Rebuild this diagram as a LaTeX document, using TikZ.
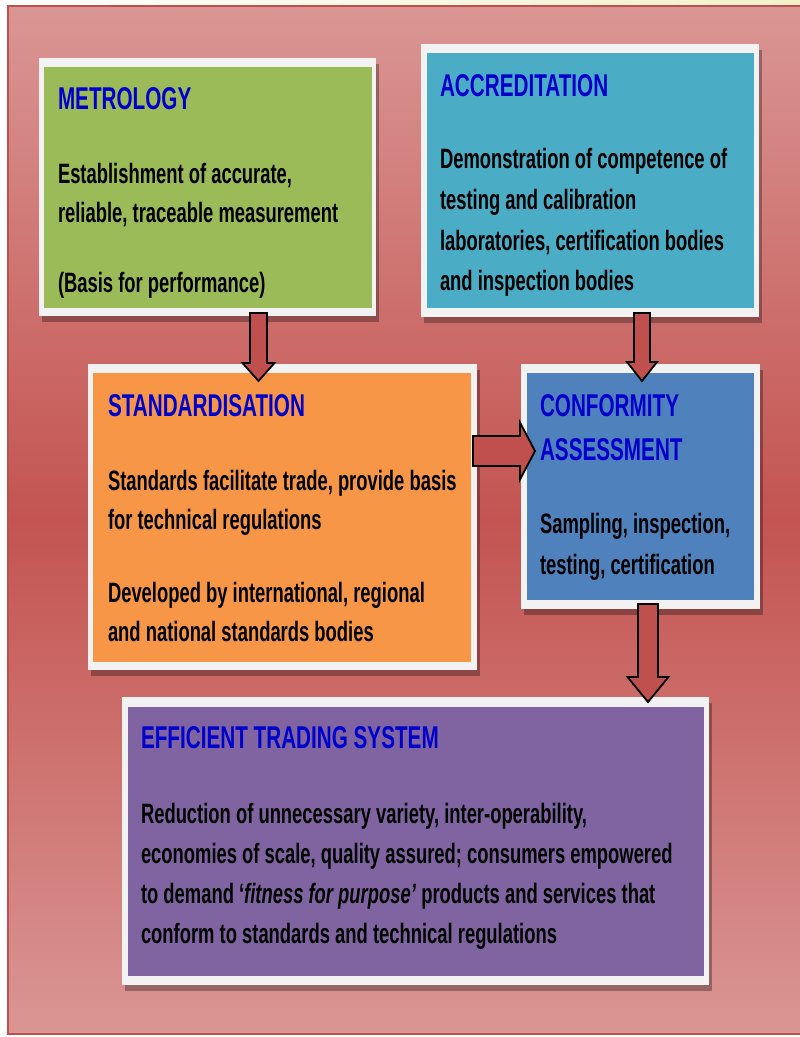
\documentclass[tikz,border=0pt]{standalone}
\usepackage{fontspec}
\setmainfont{Liberation Sans}[FakeStretch=0.657]
\usetikzlibrary{calc}
\definecolor{bgtop}{RGB}{218,150,148}
\definecolor{bgmid}{RGB}{195,84,81}
\definecolor{bordred}{RGB}{192,80,77}
\definecolor{titleblue}{RGB}{0,0,204}
\definecolor{cgreen}{RGB}{155,187,89}
\definecolor{cteal}{RGB}{75,172,198}
\definecolor{corange}{RGB}{247,150,70}
\definecolor{cblue}{RGB}{79,129,189}
\definecolor{cpurple}{RGB}{128,100,162}
\definecolor{framew}{RGB}{242,242,242}
\definecolor{arrowred}{RGB}{192,80,77}
\definecolor{paleyellow}{RGB}{244,242,200}
\tikzset{
  frame/.style={fill=framew, draw=none, inner sep=0pt, outer sep=0pt, anchor=north west},
  inbox/.style={draw=none, inner sep=0pt, outer sep=0pt, anchor=north west},
  shadowbox/.style={fill=black, fill opacity=0.3, draw=none},
  title/.style={anchor=base west, inner sep=0pt, outer sep=0pt, text=titleblue, font=\fontsize{31.5}{36}\selectfont\bfseries},
  body/.style={anchor=base west, inner sep=0pt, outer sep=0pt, text=black, font=\fontsize{28}{34}\selectfont\bfseries},
  blockarrow/.style={fill=arrowred, draw=black, line width=1.8pt, line join=miter},
}
\newcommand{\blockdown}[5]{%
  \draw[blockarrow] let \p1=(#1), \p2=(#2) in
  (\x1-#3pt,\y1) -- (\x1+#3pt,\y1) -- (\x1+#3pt,\y2+#5pt) -- (\x1+#4pt,\y2+#5pt)
  -- (\x2,\y2) -- (\x1-#4pt,\y2+#5pt) -- (\x1-#3pt,\y2+#5pt) -- cycle;}
\newcommand{\blockright}[5]{%
  \draw[blockarrow] let \p1=(#1), \p2=(#2) in
  (\x1,\y1+#3pt) -- (\x2-#5pt,\y1+#3pt) -- (\x2-#5pt,\y1+#4pt) -- (\x2,\y2)
  -- (\x2-#5pt,\y1-#4pt) -- (\x2-#5pt,\y1-#3pt) -- (\x1,\y1-#3pt) -- cycle;}
\begin{document}
\begin{tikzpicture}[x=1pt,y=-1pt]
\useasboundingbox (0,0) rectangle (800,1037);
\clip (0,0) rectangle (800,1037);
% page background
\fill[white] (0,0) rectangle (800,1037);
\shade[left color=white, right color=paleyellow] (0,0) rectangle (800,7);
\shade[top color=bgtop, bottom color=bgtop, middle color=bgmid] (8,6) rectangle (806,1034);
\draw[bordred, line width=2pt] (806,6) -- (8,6) -- (8,1034) -- (806,1034);

% METROLOGY
\fill[shadowbox] (42,64) rectangle (379,322);
\node[frame, minimum width=337, minimum height=258] (met) at (39,58) {};
\node[inbox, fill=cgreen, minimum width=328, minimum height=241] (metin) at (44,67) {};
\node[title] (metT) at (58,109) {METROLOGY};
\node[body] (metA) at (58,183) {Establishment of accurate,};
\node[body] (metB) at (58,222) {reliable, traceable measurement};
\begin{scope}
\clip (44,250) rectangle (372,297);
\node[body] (metC) at (58,292) {(Basis for performance)};
\end{scope}

% ACCREDITATION
\fill[shadowbox] (424,50) rectangle (762,323);
\node[frame, minimum width=338, minimum height=273] (acc) at (421,44) {};
\node[inbox, fill=cteal, minimum width=327, minimum height=255] (accin) at (427,53) {};
\node[title] (accT) at (440,96) {ACCREDITATION};
\node[body] (accA) at (440,168) {Demonstration of competence of};
\node[body] (accB) at (440,209) {testing and calibration};
\node[body] (accC) at (440,250) {laboratories, certification bodies};
\node[body] (accD) at (440,290) {and inspection bodies};

% STANDARDISATION
\fill[shadowbox] (91,370) rectangle (480,676);
\node[frame, minimum width=389, minimum height=306] (std) at (88,364) {};
\node[inbox, fill=corange, minimum width=378, minimum height=289] (stdin) at (93,373) {};
\node[title] (stdT) at (108,416) {STANDARDISATION};
\node[body] (stdA) at (108,490) {Standards facilitate trade, provide basis};
\node[body] (stdB) at (108,529) {for technical regulations};
\node[body] (stdC) at (108,602) {Developed by international, regional};
\node[body] (stdD) at (108,641) {and national standards bodies};

% CONFORMITY ASSESSMENT
\fill[shadowbox] (524,370) rectangle (763,615);
\node[frame, minimum width=239, minimum height=245] (con) at (521,364) {};
\node[inbox, fill=cblue, minimum width=227, minimum height=227] (conin) at (527,373) {};
\node[title] (conT) at (540,416) {CONFORMITY};
\node[title] (conU) at (540,460) {ASSESSMENT};
\node[body] (conA) at (540,533) {Sampling, inspection,};
\node[body] (conB) at (540,574) {testing, certification};

% EFFICIENT TRADING SYSTEM
\fill[shadowbox] (125,703) rectangle (712,991);
\node[frame, minimum width=587, minimum height=288] (eff) at (122,697) {};
\node[inbox, fill=cpurple, minimum width=576, minimum height=269] (effin) at (128,707) {};
\node[title] (effT) at (141,748) {EFFICIENT TRADING SYSTEM};
\node[body] (effA) at (141,823) {Reduction of unnecessary variety, inter-operability,};
\node[body] (effB) at (141,863) {economies of scale, quality assured; consumers empowered};
\node[body] (effC) at (141,903) {to demand ‘\textit{fitness for purpose’} products and services that};
\node[body] (effD) at (141,943) {conform to standards and technical regulations};

% block arrows
\coordinate (a1s) at (258.5,313); \coordinate (a1t) at (258.5,381);
\coordinate (a2s) at (642,313);   \coordinate (a2t) at (642,381);
\coordinate (a3s) at (473,451);   \coordinate (a3t) at (535,451);
\coordinate (a4s) at (648,604);   \coordinate (a4t) at (648,702);
\blockdown{a1s}{a1t}{8.5}{16}{18}
\blockdown{a2s}{a2t}{8}{15}{19}
\blockright{a3s}{a3t}{15}{28.5}{15}
\blockdown{a4s}{a4t}{10}{20.5}{25}
\end{tikzpicture}
\end{document}
